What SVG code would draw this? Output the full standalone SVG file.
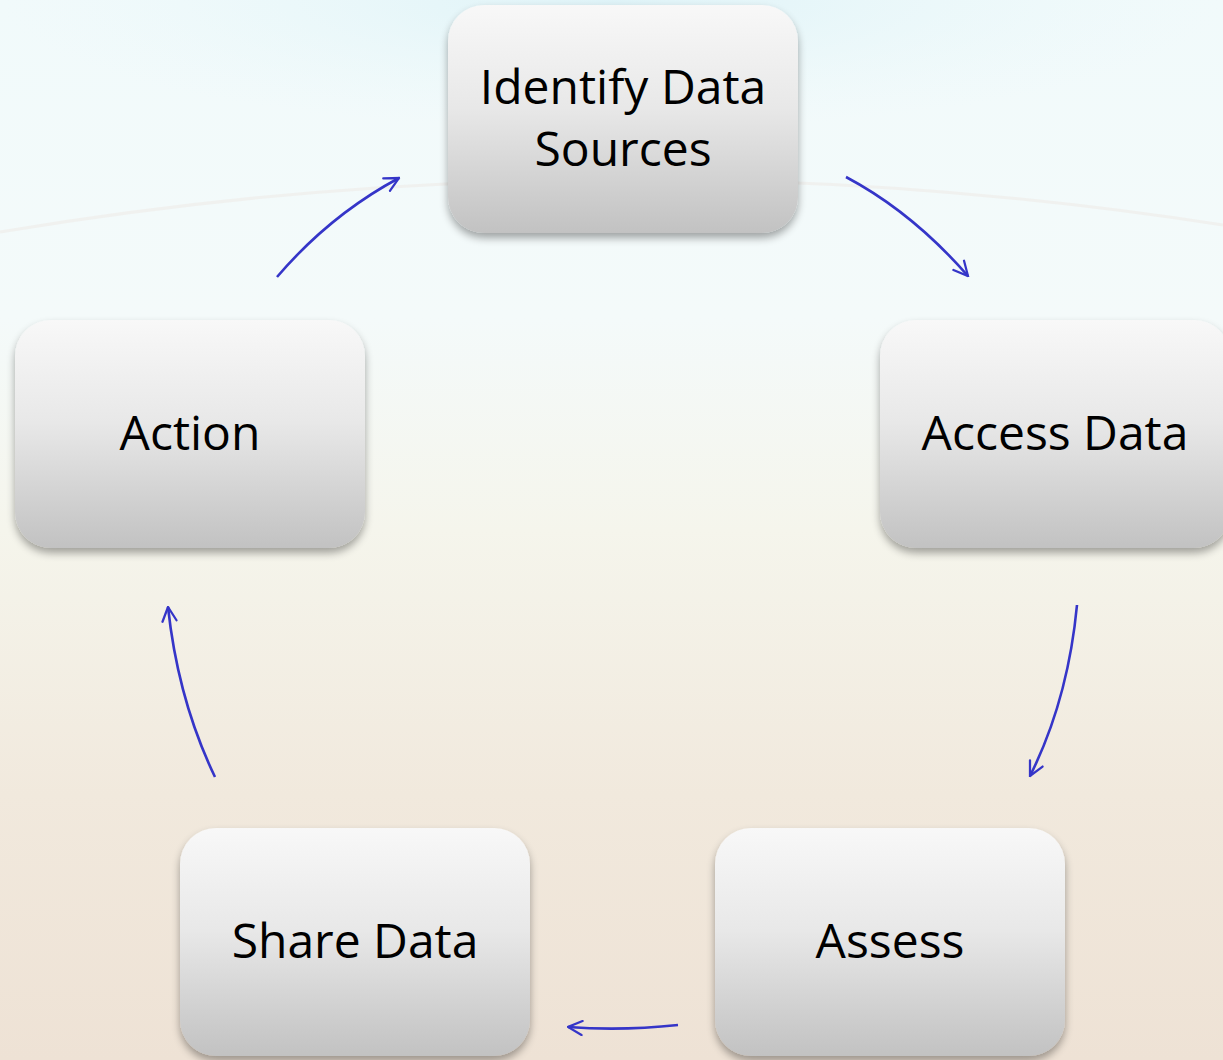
<svg xmlns="http://www.w3.org/2000/svg" width="1223" height="1060" viewBox="0 0 1223 1060">
<defs>
<linearGradient id="bg" x1="0" y1="0" x2="0" y2="1">
<stop offset="0" stop-color="#f1fafb"/>
<stop offset="0.3" stop-color="#f4fafa"/>
<stop offset="0.5" stop-color="#f5f5ec"/>
<stop offset="0.75" stop-color="#f1e9dd"/>
<stop offset="1" stop-color="#eee2d5"/>
</linearGradient>
<radialGradient id="glow" cx="0.5" cy="0" r="0.5">
<stop offset="0" stop-color="#dcf2f7" stop-opacity="0.9"/>
<stop offset="1" stop-color="#eaf8fa" stop-opacity="0"/>
</radialGradient>
<linearGradient id="box" x1="0" y1="0" x2="0" y2="1">
<stop offset="0" stop-color="#f8f8f8"/>
<stop offset="0.45" stop-color="#e8e8e8"/>
<stop offset="1" stop-color="#c2c2c2"/>
</linearGradient>
<filter id="sh" x="-10%" y="-10%" width="120%" height="130%">
<feGaussianBlur in="SourceAlpha" stdDeviation="4"/>
<feOffset dx="0" dy="5" result="b"/>
<feComponentTransfer><feFuncA type="linear" slope="0.35"/></feComponentTransfer>
<feMerge><feMergeNode/><feMergeNode in="SourceGraphic"/></feMerge>
</filter>
<marker id="ah" viewBox="0 0 12 12" refX="11" refY="6" markerWidth="6.5" markerHeight="6.5" orient="auto" markerUnits="strokeWidth">
<path d="M1,1 L11,6 L1,11" fill="none" stroke="#3535c8" stroke-width="1.6" stroke-linecap="round"/>
</marker>
</defs>
<style>
.node rect{fill:url(#box);filter:url(#sh)}
.node text{font-family:"Open Sans","Liberation Sans",sans-serif;font-size:48px;fill:#000;text-anchor:middle}
.conn path{fill:none;stroke:#3535c8;stroke-width:2.6;marker-end:url(#ah)}
</style>
<rect x="0" y="0" width="1223" height="1060" fill="url(#bg)"/>
<rect x="0" y="0" width="1223" height="260" fill="url(#glow)"/>
<path d="M0,232 Q610,130 1223,225" fill="none" stroke="#eeebe8" stroke-width="3" opacity="0.6"/>
<g id="n-identify" class="node">
<rect x="448" y="5" width="350" height="228" rx="36"/>
<text x="623" y="104">Identify Data</text>
<text x="623" y="166">Sources</text>
</g>
<g id="n-access" class="node">
<rect x="880" y="320" width="350" height="228" rx="36"/>
<text x="1055" y="450">Access Data</text>
</g>
<g id="n-assess" class="node">
<rect x="715" y="828" width="350" height="228" rx="36"/>
<text x="890" y="958">Assess</text>
</g>
<g id="n-share" class="node">
<rect x="180" y="828" width="350" height="228" rx="36"/>
<text x="355" y="958">Share Data</text>
</g>
<g id="n-action" class="node">
<rect x="15" y="320" width="350" height="228" rx="36"/>
<text x="190" y="450">Action</text>
</g>
<g id="connectors" class="conn">
<path d="M277,277 Q330,215 399,178"/>
<path d="M846,177 Q912,212 968,276"/>
<path d="M1077,605 Q1068,700 1030,776"/>
<path d="M678,1025 Q622,1031 568,1027"/>
<path d="M215,777 Q178,700 168,607"/>
</g>
</svg>
